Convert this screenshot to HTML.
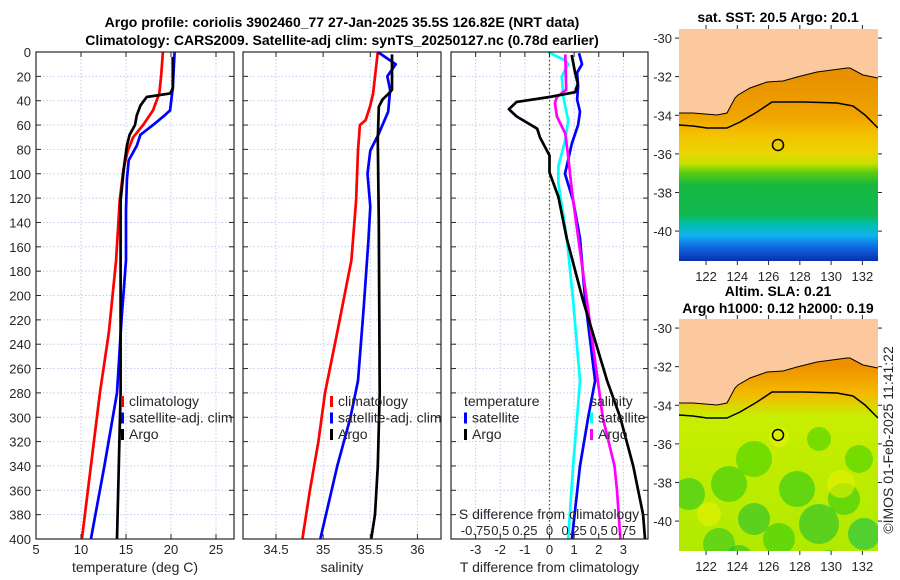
<!DOCTYPE html>
<html><head><meta charset="utf-8"><style>
html,body{margin:0;padding:0;background:#fff;}
svg{display:block;font-family:"Liberation Sans","DejaVu Sans",sans-serif;}
</style></head><body>
<svg id="root" width="900" height="580" viewBox="0 0 900 580" xmlns="http://www.w3.org/2000/svg">
<g font-weight="bold" font-size="14" fill="#000" text-anchor="middle">
<text x="342" y="27">Argo profile: coriolis 3902460_77 27-Jan-2025 35.5S 126.82E (NRT data)</text>
<text x="342" y="45">Climatology: CARS2009. Satellite-adj clim: synTS_20250127.nc (0.78d earlier)</text>
<text x="778" y="22">sat. SST: 20.5 Argo: 20.1</text>
<text x="778" y="296">Altim. SLA: 0.21</text>
<text x="778" y="313">Argo h1000: 0.12 h2000: 0.19</text>
</g>
<g id="panels"></g>
<g id="maps"></g>
<text transform="translate(893,440) rotate(-90)" text-anchor="middle" font-size="14" fill="#262626">©IMOS 01-Feb-2025 11:41:22</text>
</svg>
<script>
// ---- data ----
const depthTicks=[0,20,40,60,80,100,120,140,160,180,200,220,240,260,280,300,320,340,360,380,400];
const tempTicks=[5,10,15,20,25];
const salTicks=[34.5,35,35.5,36];
const tdiffTicks=[-3,-2,-1,0,1,2,3];
const sdiffTicks=[-0.75,-0.5,-0.25,0,0.25,0.5,0.75];
const sdiffTickLabels=["-0.75","0.5","0.25","0","0.25","0.5","0.75"];

const tClimDepth=[0,20,34,48,60,70,81,97,122,171,230,280,340,400];
const tClimVal=[19.1,18.9,18.7,18.0,16.9,15.8,15.2,14.7,14.3,13.9,13.1,12.1,11.1,10.1];
const tSatDepth=[0,29,48,52,60,68,77,89,105,130,171,220,280,340,400];
const tSatVal=[20.4,20.2,19.9,19.3,18.0,16.6,16.2,15.3,15.1,15.0,15.0,14.5,14.0,12.6,11.1];
const tArgoDepth=[4,30,34,37,44,52,60,68,77,93,122,200,280,340,400];
const tArgoVal=[20.2,20.2,19.9,17.3,16.6,16.2,16.0,15.4,15.1,14.8,14.4,14.4,14.4,14.2,14.0];

const sClimDepth=[0,34,44,56,60,81,122,171,230,280,320,360,400];
const sClimVal=[35.58,35.53,35.5,35.45,35.39,35.37,35.35,35.3,35.15,35.02,34.95,34.86,34.78];
const sSatDepth=[0,10,20,31,49,67,81,100,127,155,210,270,300,340,400];
const sSatVal=[35.58,35.77,35.68,35.71,35.69,35.59,35.5,35.47,35.5,35.48,35.43,35.37,35.29,35.15,34.97];
const sArgoDepth=[2,31,33,39,45,72,140,280,340,380,400];
const sArgoVal=[35.73,35.73,35.71,35.63,35.59,35.58,35.59,35.6,35.58,35.55,35.51];

const dTArgoDepth=[2.5,17,26,33,37,41,47,53,63,70,85,99,119,153,204,270,300,340,380,400];
const dTArgoVal=[0.9,1.04,1.15,1.04,0,-1.33,-1.65,-1.33,-0.5,-0.39,0,0,0.36,0.7,1.36,2.34,2.87,3.4,3.8,3.88];
const dTSatDepth=[1,10,17,28,39,49,60,75,100,122,153,204,270,300,340,400];
const dTSatVal=[1.2,1.32,1.12,1.16,1.12,1.24,1.16,0.91,0.63,0.96,1.24,1.45,1.85,1.57,1.24,0.91];
const dSSatDepth=[0,7,10,20,37,56,72,94,108,152,204,270,300,340,400];
const dSSatVal=[-0.015,0.16,0.19,0.125,0.14,0.19,0.16,0.09,0.09,0.175,0.24,0.31,0.28,0.24,0.19];
const dSArgoDepth=[2,31,37,42,53,67,86,116,152,204,270,300,340,360,400];
const dSArgoVal=[0.16,0.17,0.075,0.055,0.075,0.16,0.19,0.23,0.29,0.38,0.49,0.54,0.66,0.685,0.72];

const lonTicks=[122,124,126,128,130,132];
const latTicks=[-30,-32,-34,-36,-38,-40];

// ---- helpers ----
const NS="http://www.w3.org/2000/svg";
function mk(tag,attrs,parent){const e=document.createElementNS(NS,tag);for(const k in attrs)e.setAttribute(k,attrs[k]);if(parent)parent.appendChild(e);return e;}
const PT=52,PB=539;
const yD=d=>PT+(d/400)*(PB-PT);
const panelsG=document.getElementById('panels');

function panel(name,x0,x1,dmin,dmax,xticks){
  const g=mk('g',{},panelsG);
  
  
  const sx=v=>x0+(v-dmin)/(dmax-dmin)*(x1-x0);
  xticks.forEach(t=>{const l=mk('line',{x1:sx(t),x2:sx(t),y1:PT,y2:PB,stroke:'#c3cbef','stroke-dasharray':'1.5 2','stroke-width':1},g);
    });
  depthTicks.forEach(d=>{const l=mk('line',{x1:x0,x2:x1,y1:yD(d),y2:yD(d),stroke:'#c3cbef','stroke-dasharray':'1.5 2','stroke-width':1},g);
    });
  return {g,sx};
}
function frame(p,x0,x1,xticks,xlabels,xtitle,showY){
  const g=p.g,sx=p.sx;
  const r=mk('rect',{x:x0,y:PT,width:x1-x0,height:PB-PT,fill:'none',stroke:'#262626','stroke-width':1.2},g);
  
  depthTicks.forEach(d=>{
    mk('line',{x1:x0,x2:x0+5,y1:yD(d),y2:yD(d),stroke:'#262626'},g);
    mk('line',{x1:x1,x2:x1-5,y1:yD(d),y2:yD(d),stroke:'#262626'},g);
    if(showY){const t=mk('text',{x:x0-5,y:yD(d)+5,'text-anchor':'end','font-size':13,fill:'#262626'},g);t.textContent=d;
      }
  });
  xticks.forEach((t,i)=>{
    mk('line',{x1:sx(t),x2:sx(t),y1:PB,y2:PB-5,stroke:'#262626'},g);
    mk('line',{x1:sx(t),x2:sx(t),y1:PT,y2:PT+5,stroke:'#262626'},g);
    const tx=mk('text',{x:sx(t),y:PB+15,'text-anchor':'middle','font-size':13,fill:'#262626'},g);tx.textContent=xlabels[i];
    
  });
  const tt=mk('text',{x:(x0+x1)/2,y:PB+33,'text-anchor':'middle','font-size':14,fill:'#262626'},g);tt.textContent=xtitle;
  
}
function series(p,name,depths,vals,color,scale){
  const pts=depths.map((d,i)=>p.sx(vals[i]*(scale||1)).toFixed(1)+','+yD(d).toFixed(1)).join(' ');
  const l=mk('polyline',{points:pts,fill:'none',stroke:color,'stroke-width':2.7,'stroke-linejoin':'round'},p.g);
  
  
}
function legend(p,items,x,y0){
  items.forEach((it,i)=>{
    const y=y0+i*16.5;
    if(it.color){const m=mk('rect',{x:x,y:y-10,width:3,height:11,fill:it.color},p.g);
      }
    const t=mk('text',{x:x+(it.color?8:0),y:y,'font-size':14,fill:'#262626'},p.g);t.textContent=it.label;
    
  });
}

// Panel 1: temperature
const p1=panel('temperature-panel',36,234,5,27,tempTicks);
series(p1,'temp-climatology-line',tClimDepth,tClimVal,'#ff0000');
series(p1,'temp-satellite-adj-line',tSatDepth,tSatVal,'#0000ff');
series(p1,'temp-argo-line',tArgoDepth,tArgoVal,'#000000');
frame(p1,36,234,tempTicks,tempTicks.map(String),'temperature (deg C)',true);
legend(p1,[{label:'climatology',color:'#ff0000'},{label:'satellite-adj. clim',color:'#0000ff'},{label:'Argo',color:'#000'}],121,406);

// Panel 2: salinity
const p2=panel('salinity-panel',243,441,34.15,36.25,salTicks);
series(p2,'sal-climatology-line',sClimDepth,sClimVal,'#ff0000');
series(p2,'sal-satellite-adj-line',sSatDepth,sSatVal,'#0000ff');
series(p2,'sal-argo-line',sArgoDepth,sArgoVal,'#000000');
frame(p2,243,441,salTicks,salTicks.map(String),'salinity',false);
legend(p2,[{label:'climatology',color:'#ff0000'},{label:'satellite-adj. clim',color:'#0000ff'},{label:'Argo',color:'#000'}],330,406);

// Panel 3: differences
const p3=panel('difference-panel',451,648,-4,4,tdiffTicks);
const zl=mk('line',{x1:p3.sx(0),x2:p3.sx(0),y1:PT,y2:PB,stroke:'#55552a','stroke-dasharray':'1.5 2.5','stroke-width':1.3},p3.g);

series(p3,'diff-s-satellite-line',dSSatDepth,dSSatVal,'#00ffff',4);
series(p3,'diff-t-satellite-line',dTSatDepth,dTSatVal,'#0000ff');
series(p3,'diff-s-argo-line',dSArgoDepth,dSArgoVal,'#ff00ff',4);
series(p3,'diff-t-argo-line',dTArgoDepth,dTArgoVal,'#000000');
frame(p3,451,648,tdiffTicks,tdiffTicks.map(String),'T difference from climatology',false);
legend(p3,[{label:'temperature'},{label:'satellite',color:'#0000ff'},{label:'Argo',color:'#000'}],464,406);
legend(p3,[{label:'salinity'},{label:'satellite',color:'#00ffff'},{label:'Argo',color:'#ff00ff'}],590,406);
{const t=mk('text',{x:549,y:519,'text-anchor':'middle','font-size':14,fill:'#262626'},p3.g);t.textContent='S difference from climatology';
 
 sdiffTicks.forEach((s,i)=>{const tx=mk('text',{x:p3.sx(s*4),y:535,'text-anchor':'middle','font-size':13,fill:'#262626'},p3.g);tx.textContent=sdiffTickLabels[i];
  });
}

// ---- maps ----
const mapsG=document.getElementById('maps');
const MX0=679,MX1=878,LON0=120.27,LON1=133.0;
const coast=[[0,84],[14,84],[38,86],[48,84],[56,69],[59,66],[71,59],[88,53],[104,52],[118,48],[138,43],[168,39],[171,39],[184,46],[199,49]];
const contour=[[0,96],[14,97],[28,99],[48,99],[61,93],[78,83],[93,73],[125,73],[158,74],[174,77],[186,86],[199,99]];
function drawMap(name,top,bottom,latTop,latBot,kind){
  const g=mk('g',{transform:`translate(${MX0},${top})`},mapsG);
  
  const W=MX1-MX0,H=bottom-top;
  const defs=mk('defs',{},g);
  const id=name+'-grad';
  const cp=mk('clipPath',{id:name+'-clip'},defs);
  mk('rect',{x:0,y:0,width:W,height:H},cp);
  const lg=mk('linearGradient',{id:id,x1:0,y1:0,x2:0,y2:1},defs);
  let stops;
  if(kind==='sst') stops=[[0.2,'#e89000'],[0.38,'#f0a400'],[0.45,'#f4c000'],[0.53,'#ecd400'],[0.58,'#c8e000'],[0.62,'#58cc10'],[0.67,'#18b840'],[0.8,'#10b850'],[0.84,'#00c0a8'],[0.89,'#10b0f0'],[0.94,'#1068e0'],[1,'#0830b0']];
  else stops=[[0.2,'#f09000'],[0.32,'#f4b800'],[0.42,'#c8ee00'],[1,'#b0ea00']];
  stops.forEach(s=>mk('stop',{offset:s[0],'stop-color':s[1]},lg));
  const fg=mk('g',{'clip-path':`url(#${name}-clip)`},g);
  const bg=mk('rect',{x:0,y:0,width:W,height:H,fill:`url(#${id})`},fg);
  
  if(kind==='sla'){
    const blobs=[[75,140,18,'#40d000'],[50,165,18,'#30cc10'],[10,175,16,'#28c820'],[75,200,16,'#20c030'],[118,170,18,'#28c818'],[165,180,16,'#30cc10'],[180,140,14,'#40d000'],[140,120,12,'#48d000'],[185,215,16,'#10c050'],[140,205,20,'#20c030'],[40,225,16,'#30c820'],[100,220,16,'#30cc10'],[60,240,14,'#20c030'],[150,245,14,'#20c030']];
    blobs.forEach(b=>{const c=mk('circle',{cx:b[0],cy:b[1],r:b[2],fill:b[3],opacity:0.6},fg);});
    const ylw=[[30,195,12],[100,118,10],[162,165,14],[10,270,10],[180,270,10]];
    ylw.forEach(b=>{const c=mk('circle',{cx:b[0],cy:b[1],r:b[2],fill:'#e8f400',opacity:0.6},fg);});
  }
  const landPts='0,0 '+coast.map(p=>p.join(',')).join(' ')+` ${W},0`;
  const land=mk('polygon',{points:landPts,fill:'#fbc99d'},fg);
  
  const cl=mk('polyline',{points:coast.map(p=>p.join(',')).join(' '),fill:'none',stroke:'#000','stroke-width':1},fg);
  
  const ct=mk('polyline',{points:contour.map(p=>p.join(',')).join(' '),fill:'none',stroke:'#000','stroke-width':1.5},fg);
  
  const ci=mk('circle',{cx:99,cy:116,r:5.5,fill:'none',stroke:'#000','stroke-width':1.5},g);
  
  const sx=l=>(l-LON0)/(LON1-LON0)*W;
  const sy=l=>(latTop-l)/(latTop-latBot)*H;
  lonTicks.forEach(l=>{
    mk('line',{x1:sx(l),x2:sx(l),y1:H,y2:H+4,stroke:'#262626'},g);
    mk('line',{x1:sx(l),x2:sx(l),y1:0,y2:-4,stroke:'#262626'},g);
    const t=mk('text',{x:sx(l),y:H+20,'text-anchor':'middle','font-size':13,fill:'#262626'},g);t.textContent=l;
    });
  latTicks.forEach(l=>{
    mk('line',{x1:0,x2:-4,y1:sy(l),y2:sy(l),stroke:'#262626'},g);
    mk('line',{x1:W,x2:W+4,y1:sy(l),y2:sy(l),stroke:'#262626'},g);
    const t=mk('text',{x:-7,y:sy(l)+5,'text-anchor':'end','font-size':13,fill:'#262626'},g);t.textContent=l;
    });
}
drawMap('sst-map',29,261,-29.53,-41.55,'sst');
drawMap('sla-map',319,551,-29.53,-41.55,'sla');
</script>
</body></html>
